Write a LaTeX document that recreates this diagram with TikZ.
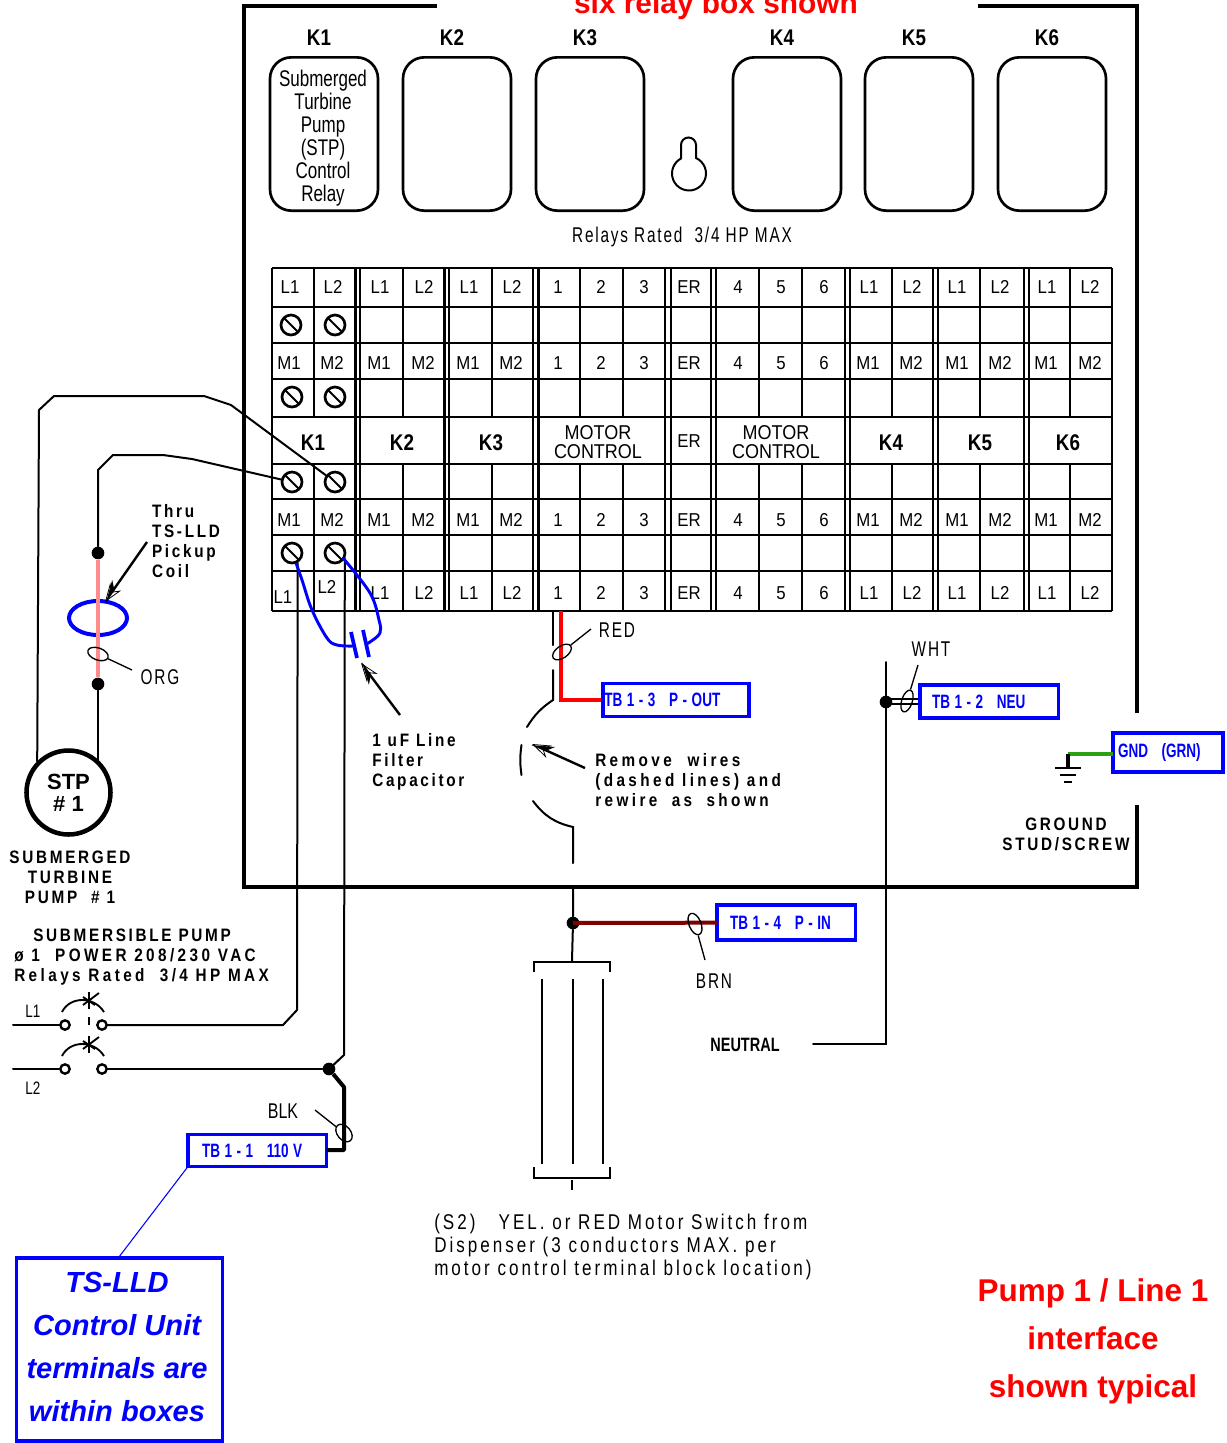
\documentclass[tikz,border=0pt]{standalone}
\usepackage{fontspec}
\setmainfont{Liberation Sans}
\newfontfamily\narrowfont[FakeStretch=.75]{Liberation Sans}
\newfontfamily\kfont[FakeStretch=.83]{Liberation Sans}
\newfontfamily\tagfont[FakeStretch=.7]{Liberation Sans}
\newfontfamily\gridfont[FakeStretch=.9]{Liberation Sans}
\newfontfamily\spacedfont[FakeStretch=.85,LetterSpace=15]{Liberation Sans}
\newfontfamily\widerfont[FakeStretch=.85,LetterSpace=19]{Liberation Sans}
\newfontfamily\lightfont[FakeStretch=.72,LetterSpace=8.5]{Liberation Sans}
\newfontfamily\loosefont[FakeStretch=.8,LetterSpace=14]{Liberation Sans}
\usetikzlibrary{arrows.meta,shapes.geometric}
\definecolor{tagblue}{RGB}{0,0,255}
\definecolor{coilpink}{RGB}{255,140,140}
\definecolor{brnwire}{RGB}{128,0,0}
\definecolor{grnwire}{RGB}{44,160,20}
\newcommand\tagtxt[1]{\mbox{\spaceskip=3.4pt\relax #1}}
\tikzset{
  wire/.style={line width=1.5pt,line cap=round},
  heavy/.style={line width=3.6pt,line join=miter},
  bluewire/.style={tagblue,line width=2.2pt},
  relay/.style={draw,line width=2pt,rounded corners=16pt,minimum width=81pt,minimum height=115pt,inner sep=0pt},
  cell/.style={inner sep=0pt,font=\gridfont\fontsize{14}{15}\selectfont},
  bigk/.style={inner sep=0pt,font=\kfont\bfseries\fontsize{17}{19}\selectfont},
  note/.style={inner sep=0pt,align=left,font=\spacedfont\bfseries\fontsize{13.5}{15}\selectfont},
  wider/.style={inner sep=0pt,align=left,font=\widerfont\bfseries\fontsize{13.5}{15}\selectfont},
  thin/.style={inner sep=0pt,align=left,font=\lightfont\fontsize{16}{17.25}\selectfont},
  screw/.style={circle,draw,fill=white,line width=2pt,minimum size=15pt,inner sep=0pt,
    path picture={\draw[line width=1.5pt] (path picture bounding box.north west) -- (path picture bounding box.south east);}},
  tie/.style={ellipse,draw,line width=1pt,inner sep=0pt},
  dot/.style={circle,fill,minimum size=9.5pt,inner sep=0pt},
  contact/.style={circle,draw,fill=white,line width=1.8pt,minimum size=7pt,inner sep=0pt},
  tag/.style={draw=tagblue,text=tagblue,fill=white,line width=2.6pt,anchor=west,align=left,inner ysep=0pt,outer sep=0pt,
    font=\tagfont\bfseries\fontsize{14.5}{16}\selectfont},
  ptr/.style={line width=1.8pt,-{Stealth[harpoon,length=14pt,width=10pt,sep=-14pt]Stealth[open,length=14pt,width=10pt,line width=.6pt]}},
  ptrb/.style={line width=1.8pt,-{Stealth[harpoon,swap,length=14pt,width=10pt,sep=-14pt]Stealth[open,length=14pt,width=10pt,line width=.6pt]}}
}
\begin{document}
\begin{tikzpicture}[x=.75pt,y=-.75pt]
    \useasboundingbox (0,0) rectangle (1227,1443);
    \draw[heavy] (437,6) -- (244,6) -- (244,887) -- (1137,887) -- (1137,805);
    \draw[heavy] (1137,713) -- (1137,6) -- (978,6);
    \node[anchor=base,inner sep=0pt,text=red,font=\bfseries\fontsize{22.4}{24}\selectfont] (title) at (716,13) {six relay box shown};
    \foreach \x/\lab [count=\i] in {324/k1,457/k2,590/k3,787/k4,919/k5,1052/k6}
      \node[relay] (\lab) at (\x,134) {};
    \foreach \x/\lab in {319/K1,452/K2,585/K3,782/K4,914/K5,1047/K6}
      \node[bigk] (top\lab) at (\x,38) {\lab};
    \node[inner sep=0pt,align=center,font=\narrowfont\fontsize{17}{17.25}\selectfont] (k1txt) at (323,138)
      {Submerged\\Turbine\\Pump\\(STP)\\Control\\Relay};
    \draw[line width=1.5pt] (681,159) -- (681,145) arc[start angle=180,end angle=360,radius=7.5]
      -- (696,158) arc[start angle=-65.7,end angle=242.7,radius=17];
    \node[thin] (rated) at (682,237) {Relays Rated~~3/4 HP MAX};

    \foreach \y in {268,307,343,379,417,464,499,535,571,611}
      \draw[line width=1.8pt] (272,\y) -- (1112,\y);
    \foreach \x in {272,355.5,360,444.5,449,533,538.5,665,671,711,716,845,850,933,938,1024,1029,1112}
      \draw[line width=1.8pt] (\x,268) -- (\x,611);
    \foreach \x in {314,403,492,580,623,759,802,892,980,1070} {
      \draw[line width=1.8pt] (\x,268) -- (\x,417);
      \draw[line width=1.8pt] (\x,464) -- (\x,611);
    }
    \foreach \x/\lab [count=\i] in {290/L1,333/L2,380/L1,424/L2,469/L1,512/L2,558/1,601/2,644/3,689/ER,738/4,781/5,824/6,869/L1,912/L2,957/L1,1000/L2,1047/L1,1090/L2}
      \node[cell] (a\i) at (\x,287) {\lab};
    \foreach \y/\r in {363/b,520/c}
      \foreach \x/\lab [count=\i] in {289/M1,332/M2,379/M1,423/M2,468/M1,511/M2,558/1,601/2,644/3,689/ER,738/4,781/5,824/6,868/M1,911/M2,957/M1,1000/M2,1046/M1,1090/M2}
        \node[cell] (\r\i) at (\x,\y) {\lab};
    \foreach \x/\y/\lab [count=\i] in {283/597/L1,327/587/L2,380/593/L1,424/593/L2,469/593/L1,512/593/L2,558/593/1,601/593/2,644/593/3,689/593/ER,738/593/4,781/593/5,824/593/6,869/593/L1,912/593/L2,957/593/L1,1000/593/L2,1047/593/L1,1090/593/L2}
      \node[cell] (d\i) at (\x,\y) {\lab};
    \foreach \x/\lab in {313/K1,402/K2,491/K3,891/K4,980/K5,1068/K6}
      \node[bigk] (row\lab) at (\x,443) {\lab};
    \node[inner sep=0pt,align=center,font=\gridfont\fontsize{15}{14.5}\selectfont] (mc1) at (598,442) {MOTOR\\CONTROL};
    \node[inner sep=0pt,align=center,font=\gridfont\fontsize{15}{14.5}\selectfont] (mc2) at (776,442) {MOTOR\\CONTROL};
    \node[cell] (er) at (689,441) {ER};

    \coordinate (lc1) at (39,410);
    \coordinate (lc2) at (54,396);
    \coordinate (lc3) at (204,396);
    \coordinate (lc4) at (231,405);
    \coordinate (rc1) at (98,470);
    \coordinate (rc2) at (113,455);
    \coordinate (rc3) at (163,455);
    \coordinate (rc4) at (192,459);
    \node[dot] (d1) at (98,553) {};
    \node[dot] (d2) at (98,684) {};
    \node[circle,draw,line width=3.4pt,minimum size=63pt,inner sep=0pt,align=center,fill=white,font=\bfseries\fontsize{16.5}{16.5}\selectfont] (stp) at (68.5,792.5) {STP\\\# 1\hspace{4pt}};
    \foreach \x/\y/\lab in {291/325/s1,335/325/s2,292/397/s3,335/397/s4,292/482/s5,335/482/s6,292/553/s7,335/553/s8}
      \node[screw] (\lab) at (\x,\y) {};
    \draw[wire] (stp.135) -- (lc1) -- (lc2) -- (lc3) -- (lc4) -- (s6);
    \draw[wire] (d1) -- (rc1) -- (rc2) -- (rc3) -- (rc4) -- (s5);
    \draw[wire] (d2) -- (d2 |- stp.45);
    \draw[tagblue,line width=3pt] (98,618) ellipse[x radius=29,y radius=17];
    \draw[coilpink,line width=3.4pt] (d1) -- (d2);
    \node[tie,minimum width=16pt,minimum height=9pt,rotate=-20] (orgtie) at (98,654) {};
    \coordinate (orgend) at (132,670);
    \draw[line width=1pt] (orgtie) -- (orgend);
    \node[thin] (org) at (160,677) {ORG};
    \node[note] (thru) at (186,541) {Thru\\TS-LLD\\Pickup\\Coil};
    \coordinate (thrue) at (147,542);
    \coordinate (thruh) at (105,602);
    \draw[ptrb] (thrue) -- (thruh);

    \draw[wire] (s7.-60) -- (297,1010) -- (283,1025) -- (107,1025);
    \draw[wire] (s8.-30) -- (344,1055) -- (329,1069);
    \draw[bluewire] plot[smooth,tension=.6] coordinates {(296,563) (302,580) (312,610) (327,638) (337,645) (353,646)};
    \draw[bluewire] plot[smooth,tension=.6] coordinates {(343,558) (370,593) (379,620) (380,633) (370,642) (366,644)};
    \draw[tagblue,line width=2.8pt] (351,632) -- (357,658);
    \draw[tagblue,line width=2.8pt] (363,630) -- (369,657);
    \draw[ptr] (400,715) -- (361,663);
    \node[note,anchor=north west] (filter) at (372,733) {1 uF Line\\Filter\\Capacitor};

    \draw[wire] (553,611) -- (553,645);
    \draw[wire] (553,670) -- (553,700) to[bend right=12] (527,727);
    \draw[wire] (521.5,745) to[bend right=8] (521.5,775);
    \draw[wire] (533,801) to[bend right=20] (573,827) -- (573,863);
    \draw[red,line width=3pt] (561,611) -- (561,700) -- (603,700);
    \node[tie,minimum width=16pt,minimum height=9pt,rotate=35] (redtie) at (562,652) {};
    \coordinate (redend) at (591,629);
    \draw[line width=1pt] (redtie) -- (redend);
    \node[thin] (redlab) at (617,630) {RED};
    \draw[ptrb] (585,768) -- (532,744);
    \node[wider,anchor=north west] (remove) at (595,753) {Remove\hspace{6pt} wires\\(dashed lines) and\\rewire\hspace{5pt} as\hspace{5pt} shown};

    \node[tag,minimum width=109.5pt,minimum height=25pt,inner xsep=1pt,text width=107.5pt] (tb3) at (603,700) {\tagtxt{TB 1 - 3~~~P - OUT}};
    \draw[wire] (886,662) -- (886,1044) -- (813,1044);
    \node[dot] (d3) at (886,702) {};
    \draw[line width=1pt] (886,699) -- (920,699);
    \draw[line width=1pt] (886,704) -- (920,704);
    \node[tie,minimum width=17pt,minimum height=8pt,rotate=72] (whttie) at (907,701) {};
    \coordinate (whtend) at (918,665);
    \draw[line width=1pt] (whttie) -- (whtend);
    \node[thin] (wht) at (931,649) {WHT};
    \node[tag,minimum width=104pt,minimum height=25pt,inner xsep=9pt,text width=86pt] (tb2) at (920,701.5) {\tagtxt{TB 1 - 2~~~NEU}};

    \node[tag,minimum width=82.5pt,minimum height=29pt,inner xsep=3.5pt,text width=75pt] (gnd) at (1113,752.5) {\tagtxt{GND~~~(GRN)}};
    \coordinate (gt) at (1068,754);
    \draw[grnwire,line width=3pt] (gt) -- (gnd.west |- gt);
    \draw[line width=3pt] (gt) -- (1068,768);
    \draw[line width=2.2pt] (1055,768) -- (1081,768);
    \draw[line width=2.2pt] (1060,775) -- (1076,775);
    \draw[line width=2.2pt] (1064,782) -- (1072,782);
    \node[note,align=center] (stud) at (1066,834) {GROUND\\STUD/SCREW};

    \node[note,align=center] (subm) at (70,877) {SUBMERGED\\TURBINE\\PUMP~~\# 1};
    \node[note,anchor=west] (pw1) at (33,935) {SUBMERSIBLE PUMP};
    \node[wider,anchor=west] (pw2) at (14,955) {ø 1~~POWER 208/230 VAC};
    \node[wider,anchor=west] (pw3) at (14,977) {Relays Rated~~3/4 HP MAX};

    \node[contact] (c1) at (65,1025) {};
    \node[contact] (c2) at (102,1025) {};
    \node[contact] (c3) at (65,1069) {};
    \node[contact] (c4) at (102,1069) {};
    \coordinate (l1in) at (13,1025);
    \coordinate (l2in) at (13,1069);
    \node[dot] (d4) at (329,1069) {};
    \draw[wire] (l1in) -- (c1);
    \draw[wire] (l2in) -- (c3);
    \draw[wire] (c2) -- (107,1025);
    \draw[wire] (c4) -- (d4);
    \foreach \y in {1012,1056} {
      \draw[line width=1.4pt] (62,\y) .. controls (70,\y-16) and (94,\y-16) .. (104,\y);
      \draw[line width=1.4pt] (89,\y-20) -- (89,\y-3);
      \draw[line width=1.4pt] (99,\y-19) -- (83,\y-7);
      \draw[line width=1.4pt] (83,\y-15) -- (95,\y-7);
    }
    \draw[line width=1.4pt] (89,1017) -- (89,1025);
    \node[inner sep=0pt,font=\narrowfont\fontsize{13.5}{15}\selectfont] (l1) at (33,1011) {L1};
    \node[inner sep=0pt,font=\narrowfont\fontsize{13.5}{15}\selectfont] (l2) at (33,1088) {L2};

    \node[tag,minimum width=104pt,minimum height=24pt,inner xsep=10.5pt,text width=83pt] (tb1) at (188,1150.5) {\tagtxt{TB 1 - 1~~~110 V}};
    \draw[line width=3pt,line join=bevel] (d4) -- (344,1087) -- (344,1150) -- (tb1.east |- 344,1150);
    \node[tie,minimum width=15pt,minimum height=10pt,rotate=-50] (blktie) at (344,1133) {};
    \coordinate (blkend) at (315,1110);
    \draw[line width=1pt] (blktie) -- (blkend);
    \node[inner sep=0pt,font=\narrowfont\fontsize{16}{17}\selectfont] (blk) at (283,1111) {BLK};

    \node[draw=tagblue,line width=2.8pt,minimum width=154.5pt,minimum height=137pt,inner sep=0pt] (tsbox) at (119.5,1349.5) {};
    \node[text=tagblue,inner sep=0pt,align=center,font=\bfseries\itshape\fontsize{21.8}{32.25}\selectfont] (tslab) at (117,1346.5) {TS-LLD\\Control Unit\\terminals are\\within boxes};
    \draw[tagblue,line width=.8pt] (tb1.south west) -- (tsbox.north);

    \node[dot] (d5) at (573,923) {};
    \draw[wire] (573,888) -- (d5) -- (572,961);
    \draw[line width=2.2pt] (534,972) -- (534,962) -- (610,962) -- (610,972);
    \draw[line width=2.2pt] (534,1167) -- (534,1178) -- (610,1178) -- (610,1167);
    \draw[line width=1.8pt] (572,1180) -- (572,1190);
    \foreach \x in {542,573,603}
      \draw[line width=1.6pt] (\x,979) -- (\x,1164);
    \node[tag,minimum width=104pt,minimum height=26pt,inner xsep=9.75pt,text width=84.5pt] (tb4) at (717,922.5) {\tagtxt{TB 1 - 4~~~P - IN}};
    \draw[brnwire,line width=3pt] (d5.center) -- (tb4);
    \node[tie,minimum width=17pt,minimum height=9pt,rotate=-68] (brntie) at (695,924) {};
    \coordinate (brnend) at (705,960);
    \draw[line width=1pt] (brntie) -- (brnend);
    \node[thin] (brn) at (714,981) {BRN};
    \node[inner sep=0pt,font=\narrowfont\bfseries\fontsize{14.5}{16}\selectfont] (neutral) at (745,1045) {NEUTRAL};

    \node[inner sep=0pt,align=left,anchor=north west,font=\loosefont\fontsize{16}{17.25}\selectfont] (s2) at (434,1214) {(S2)~~ YEL. or RED Motor Switch from\\Dispenser (3 conductors MAX. per\\motor control terminal block location)};
    \node[inner sep=0pt,align=center,text=red,font=\bfseries\fontsize{23.6}{36}\selectfont] (pump) at (1093,1341) {Pump 1 / Line 1\\interface\\shown typical};
\end{tikzpicture}
\end{document}
